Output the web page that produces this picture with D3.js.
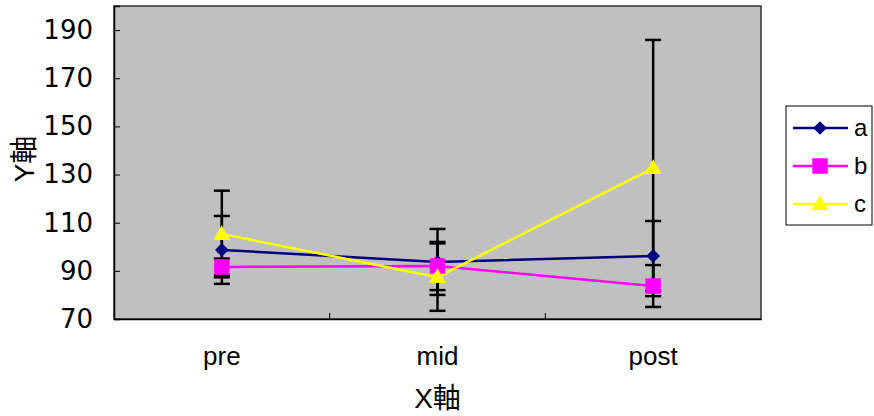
<!DOCTYPE html>
<html><head><meta charset="utf-8">
<script src="https://cdn.jsdelivr.net/npm/d3@7"></script>
<style>body{margin:0;background:#fff}svg{display:block}text{font-family:"Liberation Sans","Noto Sans CJK JP",sans-serif}</style>
</head><body><svg id="c" width="874" height="416"></svg>
<script>
const categories = ["pre", "mid", "post"];
const seriesNames = ["a", "b", "c"];
const valuesA = [98.7, 93.7, 96.2];
const valuesB = [91.6, 92.0, 83.7];
const valuesC = [105.3, 87.4, 132.7];
const errA = [14.1, 13.7, 14.5];
const errB = [3.5, 10.0, 8.7];
const errC = [18.0, 14.0, 53.2];
const yTicks = [70, 90, 110, 130, 150, 170, 190];
const colors = ["#000080", "#FF00FF", "#FFFF00"];
const symbols = [d3.symbolDiamond2, d3.symbolSquare, d3.symbolTriangle];

const series = [
  {name: seriesNames[0], vals: valuesA, err: errA},
  {name: seriesNames[1], vals: valuesB, err: errB},
  {name: seriesNames[2], vals: valuesC, err: errC}
];

const L = 114, R = 761, T = 6, B = 319;
const svg = d3.select("#c");
const x = d3.scaleBand().domain(categories).range([L, R]);
const y = d3.scaleLinear().domain([70, 200]).range([B, T]);
const cx = c => x(c) + x.bandwidth() / 2;

svg.append("rect").attr("x", L).attr("y", T).attr("width", R - L).attr("height", B - T)
  .attr("fill", "#C0C0C0").attr("stroke", "#333").attr("stroke-width", 1.5);

// y axis
const ya = svg.append("g").attr("transform", `translate(${L},0)`)
  .call(d3.axisLeft(y).tickValues(yTicks).tickSize(-6).tickPadding(21).tickFormat(d3.format("d")));
ya.select(".domain").attr("stroke", "#000").attr("stroke-width", 1.5);
ya.selectAll(".tick line").attr("stroke", "#000");
ya.selectAll("text").style("font-family", "'DejaVu Sans', sans-serif").style("font-size", "26px").attr("fill", "#000");

// x axis
const xa = svg.append("g").attr("transform", `translate(0,${B})`)
  .call(d3.axisBottom(x).tickSize(0).tickPadding(28));
xa.select(".domain").attr("stroke", "#000").attr("stroke-width", 1.5);
xa.selectAll("text").style("font-size", "26px").attr("fill", "#000");
// inward category separators
const seps = categories.slice(1).map(c => x(c));
svg.append("g").selectAll("line").data(seps).join("line")
  .attr("x1", d => d).attr("x2", d => d).attr("y1", B).attr("y2", B - 6)
  .attr("stroke", "#000").attr("stroke-width", 1);

// error bars
series.forEach(s => {
  const g = svg.append("g").attr("stroke", "#000").attr("stroke-width", 2.5);
  categories.forEach((c, i) => {
    const hi = y(s.vals[i] + s.err[i]), lo = y(s.vals[i] - s.err[i]), px = cx(c);
    g.append("line").attr("x1", px).attr("x2", px).attr("y1", hi).attr("y2", lo);
    g.append("line").attr("x1", px - 8).attr("x2", px + 8).attr("y1", hi).attr("y2", hi);
    g.append("line").attr("x1", px - 8).attr("x2", px + 8).attr("y1", lo).attr("y2", lo);
  });
});

// lines
const line = d3.line().x((d, i) => cx(categories[i])).y(d => y(d));
series.forEach((s, k) => {
  svg.append("path").attr("d", line(s.vals)).attr("fill", "none")
    .attr("stroke", colors[k]).attr("stroke-width", 2.5);
});
// markers
const symSize = [120, 240, 125];
series.forEach((s, k) => {
  svg.append("g").selectAll("path").data(s.vals).join("path")
    .attr("transform", (d, i) => `translate(${cx(categories[i])},${y(d) + (k === 2 ? 1 : 0)})`)
    .attr("d", d3.symbol().type(symbols[k]).size(symSize[k]))
    .attr("fill", colors[k]);
});

// axis titles
svg.append("text").attr("x", cx("mid")).attr("y", 408).attr("text-anchor", "middle")
  .style("font-size", "28px").text("X軸");
svg.append("text").attr("transform", "translate(34,159) rotate(-90)").attr("text-anchor", "middle")
  .style("font-size", "28px").text("Y軸");

// legend
const lg = svg.append("g");
lg.append("rect").attr("x", 786).attr("y", 106).attr("width", 86).attr("height", 119)
  .attr("fill", "#fff").attr("stroke", "#000").attr("stroke-width", 1);
series.forEach((s, k) => {
  const ly = 128 + k * 38;
  lg.append("line").attr("x1", 793).attr("x2", 848).attr("y1", ly).attr("y2", ly)
    .attr("stroke", colors[k]).attr("stroke-width", 2.5);
  lg.append("path").attr("transform", `translate(820,${ly + (k === 2 ? 1 : 0)})`)
    .attr("d", d3.symbol().type(symbols[k]).size(symSize[k])).attr("fill", colors[k]);
  lg.append("text").attr("x", 854).attr("y", ly + 8).style("font-size", "24px").text(s.name);
});
</script></body></html>
